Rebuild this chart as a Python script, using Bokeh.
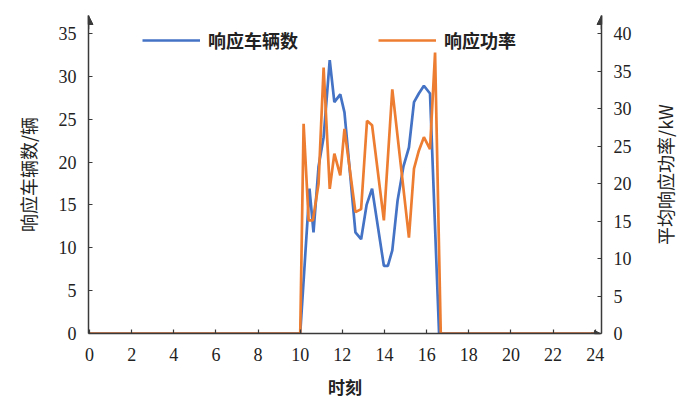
from bokeh.plotting import figure
from bokeh.layouts import row
from bokeh.models import (Range1d, LinearAxis, FixedTicker, Legend, LegendItem, Arrow,
                          NormalHead, Title)
from bokeh.embed import file_html
from bokeh.resources import INLINE

# ---- data ----
blue_t = [0, 10.0, 10.44, 10.63, 10.87, 11.11, 11.4, 11.62, 11.9, 12.1, 12.62, 12.89, 13.15, 13.41,
          13.97, 14.16, 14.37, 14.62, 14.9, 15.16, 15.4, 15.63, 15.87, 16.16, 16.59, 24]
blue_v = [0, 0, 16.9, 11.8, 19.5, 22.9, 31.9, 27.0, 27.9, 25.8, 11.8, 11.0, 15.0, 16.9,
          7.9, 7.9, 9.7, 15.5, 19.5, 21.7, 27.0, 28.0, 28.9, 28.0, 0, 0]

orange_t = [0, 10.0, 10.16, 10.4, 10.6, 10.87, 11.11, 11.4, 11.62, 11.9, 12.1, 12.62, 12.89, 13.17,
            13.41, 13.97, 14.37, 15.16, 15.4, 15.63, 15.87, 16.16, 16.4, 16.67, 24]
orange_v = [0, 0, 28.0, 15.1, 15.1, 20.0, 35.5, 19.3, 24.0, 21.1, 27.3, 16.2, 16.6, 28.4,
            27.8, 15.1, 32.6, 12.8, 22.0, 24.4, 26.2, 24.6, 37.5, 0, 0]

x_ticks = list(range(0, 25, 2))
left_ticks = list(range(0, 36, 5))
right_ticks = list(range(0, 41, 5))

series_names = ["响应车辆数", "响应功率"]
x_title = "时刻"
left_title = "响应车辆数/辆"
right_title = "平均响应功率/kW"

BLUE = "#4472C4"
ORANGE = "#ED7D31"
AX = "#3a3a3a"
TICK_FONT = "Liberation Serif"
CJK = "Noto Sans CJK SC"

p = figure(width=647, height=402, output_backend="svg", toolbar_location=None,
           x_range=Range1d(-0.05, 24.3), y_range=Range1d(0, 37.1),
           min_border_left=88, min_border_right=46, min_border_top=15, min_border_bottom=69)
p.extra_y_ranges = {"power": Range1d(0, 42.45)}
p.outline_line_color = None
p.xgrid.visible = False
p.ygrid.visible = False

r1 = p.line(blue_t, blue_v, line_color=BLUE, line_width=2.7)
r2 = p.line(orange_t, orange_v, line_color=ORANGE, line_width=2.7, y_range_name="power")

def style(ax):
    ax.axis_line_color = AX
    ax.axis_line_width = 1.5
    ax.major_tick_line_color = AX
    ax.major_tick_line_width = 1.2
    ax.major_tick_in = 4
    ax.major_tick_out = 0
    ax.minor_tick_line_color = None
    ax.major_label_text_font = TICK_FONT
    ax.major_label_text_font_size = "18px"
    ax.major_label_text_color = "#222222"
    ax.axis_label_text_font = CJK
    ax.axis_label_text_font_style = "normal"
    ax.axis_label_text_color = "#222222"

xa = p.xaxis[0]
style(xa)
xa.ticker = FixedTicker(ticks=x_ticks)
xa.axis_label = x_title
xa.axis_label_text_font_size = "17px"
xa.axis_label_text_font_style = "bold"
xa.major_label_standoff = 14
xa.axis_label_standoff = 10

ya = p.yaxis[0]
style(ya)
ya.ticker = FixedTicker(ticks=left_ticks)
ya.axis_label = left_title
ya.axis_label_text_font_size = "18px"
ya.major_label_standoff = 12
ya.axis_label_standoff = 15

ra = LinearAxis(y_range_name="power")
style(ra)
ra.ticker = FixedTicker(ticks=right_ticks)
ra.major_label_standoff = 12
p.add_layout(ra, "right")

# axis arrows
head = dict(fill_color=AX, line_color=AX)
p.add_layout(Arrow(end=NormalHead(size=9, **head), line_color=AX, line_width=1.5,
                   x_start=-0.05, y_start=35.5, x_end=-0.05, y_end=37.1))
p.add_layout(Arrow(end=NormalHead(size=9, **head), line_color=AX, line_width=1.5,
                   x_start=24.3, y_start=35.5, x_end=24.3, y_end=37.1))
p.add_layout(Arrow(end=NormalHead(size=6, **head), line_color=AX, line_width=1.5,
                   x_start=23.8, y_start=0, x_end=24.25, y_end=0))

legend = Legend(items=[LegendItem(label=series_names[0], renderers=[r1]),
                       LegendItem(label=series_names[1], renderers=[r2])],
                orientation="horizontal", location=(54, 280),
                glyph_width=58, label_standoff=8, spacing=80, padding=0, margin=0,
                border_line_color=None, background_fill_alpha=0,
                label_text_font=CJK, label_text_font_size="18px", label_text_font_style="bold",
                label_text_color="#222222")
p.add_layout(legend)

# narrow strip carrying the right-hand axis title, reading bottom-to-top
p2 = figure(width=43, height=402, output_backend="svg", toolbar_location=None,
            x_axis_location=None, y_axis_location=None,
            min_border_left=0, min_border_right=0, min_border_top=15, min_border_bottom=69)
p2.outline_line_color = None
p2.xgrid.visible = False
p2.ygrid.visible = False
p2.title = None
p2.add_layout(Title(text=right_title, align="center", text_font=CJK, text_font_size="18px",
                    text_font_style="normal", text_color="#222222", standoff=4), "left")

layout = row(p, p2, spacing=0)
open("out.html", "w").write(file_html(layout, INLINE))
